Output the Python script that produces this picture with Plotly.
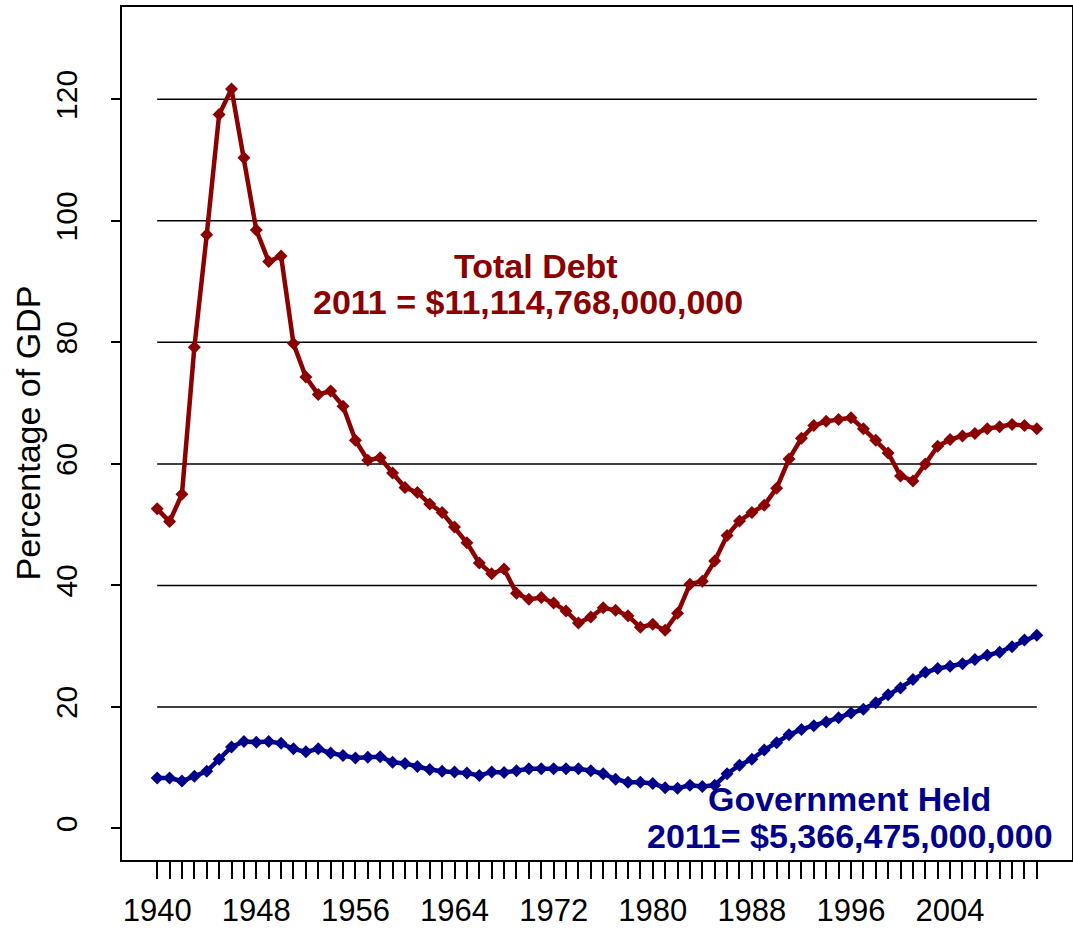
import plotly.graph_objects as go

# ---- data ----
years = list(range(1940, 2012))

total_debt = [
    52.6, 50.5, 55.0, 79.2, 97.7, 117.5, 121.7, 110.4, 98.5, 93.3,   # 1940-1949
    94.2, 79.8, 74.3, 71.4, 72.0, 69.5, 63.9, 60.6, 61.0, 58.5,      # 1950-1959
    56.1, 55.3, 53.4, 52.0, 49.6, 47.0, 43.7, 41.9, 42.7, 38.7,      # 1960-1969
    37.7, 38.0, 37.1, 35.8, 33.8, 34.8, 36.3, 35.9, 35.0, 33.1,      # 1970-1979
    33.6, 32.6, 35.4, 40.2, 40.7, 44.0, 48.2, 50.6, 52.0, 53.2,      # 1980-1989
    56.0, 60.8, 64.2, 66.3, 67.0, 67.3, 67.6, 65.8, 63.9, 61.8,      # 1990-1999
    58.0, 57.2, 60.0, 62.9, 64.0, 64.6, 65.0, 65.8, 66.1, 66.5,      # 2000-2009
    66.3, 65.8,                                                      # 2010-2011
]

government_held = [
    8.3, 8.3, 7.8, 8.6, 9.4, 11.4, 13.4, 14.3, 14.2, 14.3,           # 1940-1949
    14.0, 13.1, 12.6, 13.1, 12.4, 12.0, 11.6, 11.7, 11.8, 10.9,      # 1950-1959
    10.7, 10.2, 9.7, 9.4, 9.3, 9.1, 8.7, 9.3, 9.2, 9.5,              # 1960-1969
    9.8, 9.8, 9.8, 9.8, 9.8, 9.5, 9.0, 8.1, 7.6, 7.6,                # 1970-1979
    7.4, 6.7, 6.6, 7.1, 6.9, 7.1, 9.0, 10.4, 11.4, 12.9,             # 1980-1989
    14.1, 15.4, 16.3, 16.9, 17.5, 18.2, 19.0, 19.6, 20.7, 22.0,      # 1990-1999
    23.1, 24.5, 25.7, 26.3, 26.7, 27.1, 27.8, 28.5, 29.0, 29.9,      # 2000-2009
    31.0, 31.8,                                                      # 2010-2011
]

x_label_years = [1940, 1948, 1956, 1964, 1972, 1980, 1988, 1996, 2004]
y_ticks = [0, 20, 40, 60, 80, 100, 120]
grid_levels = [20, 40, 60, 80, 100, 120]

total_label = ["Total Debt", "2011 = $11,114,768,000,000"]
govt_label = ["Government Held", "2011= $5,366,475,000,000"]
y_title = "Percentage of GDP"

RED = "#8B0000"
BLUE = "#00008B"
FONT = "Liberation Sans, Arial, sans-serif"
NARROW = "Liberation Sans Narrow, Arial Narrow, Liberation Sans, Arial, sans-serif"

fig = go.Figure()

for vals, col in ((total_debt, RED), (government_held, BLUE)):
    fig.add_trace(go.Scatter(
        x=years, y=vals, mode="lines+markers",
        line=dict(color=col, width=4.5),
        marker=dict(symbol="diamond", size=10, color=col),
        hoverinfo="x+y",
    ))

# horizontal reference lines spanning the data years
for lv in grid_levels:
    fig.add_shape(type="line", xref="x", yref="y",
                  x0=years[0], x1=years[-1], y0=lv, y1=lv,
                  line=dict(color="black", width=1.5), layer="below")

span = years[-1] - years[0]
pad = span * 0.04

fig.update_xaxes(
    range=[years[0] - pad, years[-1] + pad],
    tickmode="array", tickvals=years,
    ticktext=[str(y) if y in x_label_years else "" for y in years],
    ticks="outside", ticklen=17, tickwidth=1.5, tickcolor="black",
    ticklabelstandoff=5,
    showline=True, linecolor="black", linewidth=1.5, mirror=True,
    showgrid=False, zeroline=False,
    tickfont=dict(family=NARROW, size=31, color="black"),
)
fig.update_yaxes(
    range=[-5.2, 135.2],
    tickmode="array", tickvals=y_ticks, ticktext=[str(v) for v in y_ticks],
    tickangle=-90,
    ticks="outside", ticklen=9, tickwidth=1.5, tickcolor="black",
    ticklabelstandoff=22,
    showline=True, linecolor="black", linewidth=1.5, mirror=True,
    showgrid=False, zeroline=False,
    tickfont=dict(family=NARROW, size=30, color="black"),
)

ann_font_red = dict(family=FONT, size=34, color=RED)
ann_font_blue = dict(family=FONT, size=34, color=BLUE)
# two-line labels: first line sits on top of the boundary, second hangs below it
fig.add_annotation(x=1970.6, y=89.6, xref="x", yref="y", text="<b>%s</b>" % total_label[0],
                   showarrow=False, font=ann_font_red, xanchor="center", yanchor="bottom",
                   yshift=-3)
fig.add_annotation(x=1969.9, y=89.6, xref="x", yref="y", text="<b>%s</b>" % total_label[1],
                   showarrow=False, font=ann_font_red, xanchor="center", yanchor="top",
                   yshift=3)
fig.add_annotation(x=1995.9, y=1.8, xref="x", yref="y", text="<b>%s</b>" % govt_label[0],
                   showarrow=False, font=ann_font_blue, xanchor="center", yanchor="bottom",
                   yshift=-3)
fig.add_annotation(x=1995.9, y=1.8, xref="x", yref="y", text="<b>%s</b>" % govt_label[1],
                   showarrow=False, font=ann_font_blue, xanchor="center", yanchor="top",
                   yshift=2)

fig.add_annotation(x=-0.1, y=0.5, xref="paper", yref="paper", text=y_title,
                   textangle=-90, showarrow=False, xanchor="center", yanchor="middle",
                   font=dict(family=FONT, size=34, color="black"))

fig.update_layout(
    width=1073, height=933,
    margin=dict(l=122, r=1, t=7, b=73, autoexpand=False),
    plot_bgcolor="white", paper_bgcolor="white",
    showlegend=False,
)

fig.write_html("out.html", config={"displayModeBar": False},
               post_script="document.body.style.margin='0';document.body.style.overflow='hidden';")
